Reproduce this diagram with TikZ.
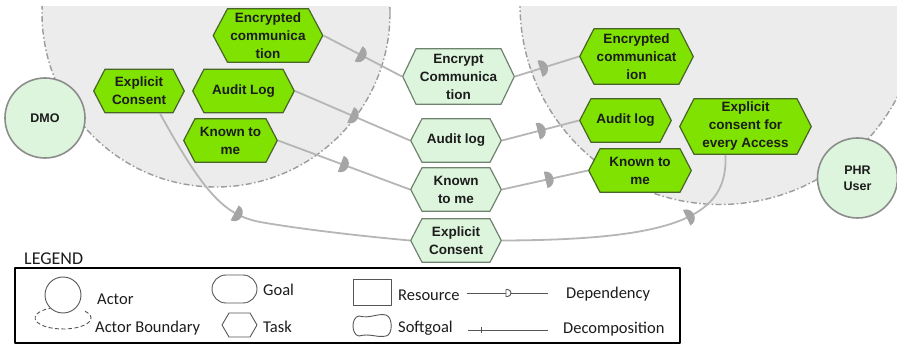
\documentclass[tikz,border=0pt]{standalone}
\usepackage{fontspec}
\setmainfont{Liberation Sans}
\newfontfamily\legendfont{Carlito}
\usetikzlibrary{decorations.markings}

\definecolor{taskgreen}{RGB}{128,226,0}
\definecolor{taskedge}{RGB}{72,100,40}
\definecolor{palegreen}{RGB}{221,245,221}
\definecolor{paleedge}{RGB}{110,130,110}
\definecolor{bndfill}{RGB}{236,236,236}
\definecolor{bndedge}{RGB}{155,155,155}
\definecolor{depline}{RGB}{182,182,182}
\definecolor{depmark}{RGB}{165,165,165}
\definecolor{actoredge}{RGB}{140,140,140}
\definecolor{inkcol}{RGB}{28,28,28}
\definecolor{legink}{RGB}{85,85,85}

\begin{document}
\begin{tikzpicture}[x=1pt, y=-1pt, line join=round,
  hexind/.store in=\hexind, hexind=12pt,
  hexbox/.style={rectangle, inner sep=0pt, outer sep=0pt, align=center, text=inkcol,
    font=\fontsize{13.5}{18}\selectfont\bfseries,
    path picture={\path[hexpaint]
        ([xshift=0.7pt]path picture bounding box.west)
      -- ([xshift=\hexind, yshift=-0.7pt]path picture bounding box.north west)
      -- ([xshift=-\hexind, yshift=-0.7pt]path picture bounding box.north east)
      -- ([xshift=-0.7pt]path picture bounding box.east)
      -- ([xshift=-\hexind, yshift=0.7pt]path picture bounding box.south east)
      -- ([xshift=\hexind, yshift=0.7pt]path picture bounding box.south west)
      -- cycle;}},
  bright/.style={hexbox, hexpaint/.style={fill=taskgreen, draw=taskedge, line width=1.2pt}},
  pale/.style={hexbox, hexpaint/.style={fill=palegreen, draw=paleedge, line width=1.2pt}},
  actor/.style={circle, draw=actoredge, line width=1.6pt, fill=palegreen,
    minimum size=80pt, inner sep=0pt, align=center, text=inkcol,
    font=\fontsize{12.5}{16}\selectfont\bfseries},
  boundary/.style={fill=bndfill, draw=bndedge, line width=1.4pt,
    dash pattern=on 6pt off 2.5pt on 1.5pt off 2.5pt},
  dep/.style={draw=depline, line width=1.8pt, postaction={decorate},
    decoration={markings, mark=at position #1 with {\fill[depmark] (-2pt,8.5pt)
      arc[start angle=90, end angle=-90, x radius=8pt, y radius=8.5pt] -- cycle;}}},
  legshape/.style={draw=legink, line width=0.9pt},
  legtext/.style={font=\legendfont\fontsize{16.5}{18}\selectfont, text=inkcol,
    anchor=base west, inner sep=0pt}]

\useasboundingbox (0,0) rectangle (897,344);

% actor boundaries
\begin{scope}
  \clip (0,7) rectangle (897,344);
  \path[boundary] (216,13) circle (174);
  \path[boundary] (720,4.5) circle (200);
\end{scope}

% actors
\node[actor] (dmo) at (45,118) {DMO};
\node[actor] (phr) at (857.5,178) {PHR\\User};

% DMO tasks
\node[bright, minimum width=111pt, minimum height=55pt, hexind=15pt] (encL) at (268,35.5) {Encrypted\\communica\\tion};
\node[bright, minimum width=92pt, minimum height=45pt] (ecL) at (139,91) {Explicit\\Consent};
\node[bright, minimum width=103pt, minimum height=45pt] (alL) at (243.5,91) {Audit Log};
\node[bright, minimum width=95pt, minimum height=45pt] (kmL) at (230.5,140.5) {Known to\\me};

% dependums
\node[pale, minimum width=113pt, minimum height=57pt, hexind=14pt] (encM) at (458.5,76.5) {Encrypt\\Communica\\tion};
\node[pale, minimum width=92pt, minimum height=45pt] (alM) at (456,140.5) {Audit log};
\node[pale, minimum width=92pt, minimum height=45pt] (kmM) at (456,189.5) {Known\\to me};
\node[pale, minimum width=92pt, minimum height=45pt] (ecM) at (456,240.5) {Explicit\\Consent};

% PHR user tasks
\node[bright, minimum width=115pt, minimum height=57pt, hexind=15pt] (encR) at (636.5,56.5) {Encrypted\\communicat\\ion};
\node[bright, minimum width=93pt, minimum height=45pt] (alR) at (625.5,120.5) {Audit log};
\node[bright, minimum width=104pt, minimum height=45pt] (kmR) at (640,170.5) {Known to\\me};
\node[bright, minimum width=133pt, minimum height=57pt, hexind=15pt] (ecR) at (745.5,126.5) {Explicit\\consent for\\every Access};

% dependencies
\draw[dep=0.47] (encL.east) -- (encM.west);
\draw[dep=0.5] (alL.east) -- (alM.west);
\draw[dep=0.49] (kmL.east) -- (kmM.west);
\draw[dep=0.42] ([xshift=21pt]ecL.south) .. controls (205,195) and (225,215) .. (260,222)
  .. controls (300,229) and (360,236) .. (ecM.west);
\draw[dep=0.42] (encM.east) -- (encR.west);
\draw[dep=0.49] (alM.east) -- (alR.west);
\draw[dep=0.53] (kmM.east) -- (kmR.west);
\draw[dep=0.71] (ecM.east) .. controls (680,240) and (728,215) .. ([xshift=-20pt]ecR.south);

% legend
\node[font=\legendfont\fontsize{18}{20}\selectfont, text=inkcol, anchor=base west, inner sep=0pt] (legtitle) at (24,265) {LEGEND};
\draw[line width=1.3pt] (15,268) rectangle (680,343);

\draw[legshape] (63,295) circle (18);
\draw[legshape, dash pattern=on 4pt off 2.5pt] (63,318) ++(-38:28 and 11)
  arc[start angle=-38, end angle=243, x radius=28, y radius=11];
\draw[legshape, rounded corners=14pt] (212,275) rectangle (257,303);
\draw[legshape] (222,325) -- (229,313) -- (250,313) -- (257,325) -- (250,337) -- (229,337) -- cycle;
\draw[legshape] (353,279) rectangle (391,305);
\draw[legshape] (359,316) .. controls (370,319) and (377,313) .. (386,315)
  .. controls (393,317) and (393,335) .. (386,336)
  .. controls (377,338) and (370,333) .. (359,336)
  .. controls (351,335) and (351,317) .. (359,316) -- cycle;
\draw[legshape] (467,293) -- (506,293);
\draw[legshape] (506,289.5) -- (507.5,289.5) arc[start angle=-90, end angle=90, radius=3.5] -- (506,296.5) -- cycle;
\draw[legshape] (511,293) -- (548,293);
\draw[legshape] (468,330) -- (548,330);
\draw[legshape] (481,327) -- (481,333);

\node[legtext] (lactor) at (97,305) {Actor};
\node[legtext] (lbound) at (95,333) {Actor Boundary};
\node[legtext] (lgoal) at (263,296) {Goal};
\node[legtext] (ltask) at (263,333) {Task};
\node[legtext] (lres) at (398,301) {Resource};
\node[legtext] (lsoft) at (398,333) {Softgoal};
\node[legtext] (ldep) at (566,299) {Dependency};
\node[legtext] (ldec) at (563,334) {Decomposition};
\end{tikzpicture}
\end{document}
